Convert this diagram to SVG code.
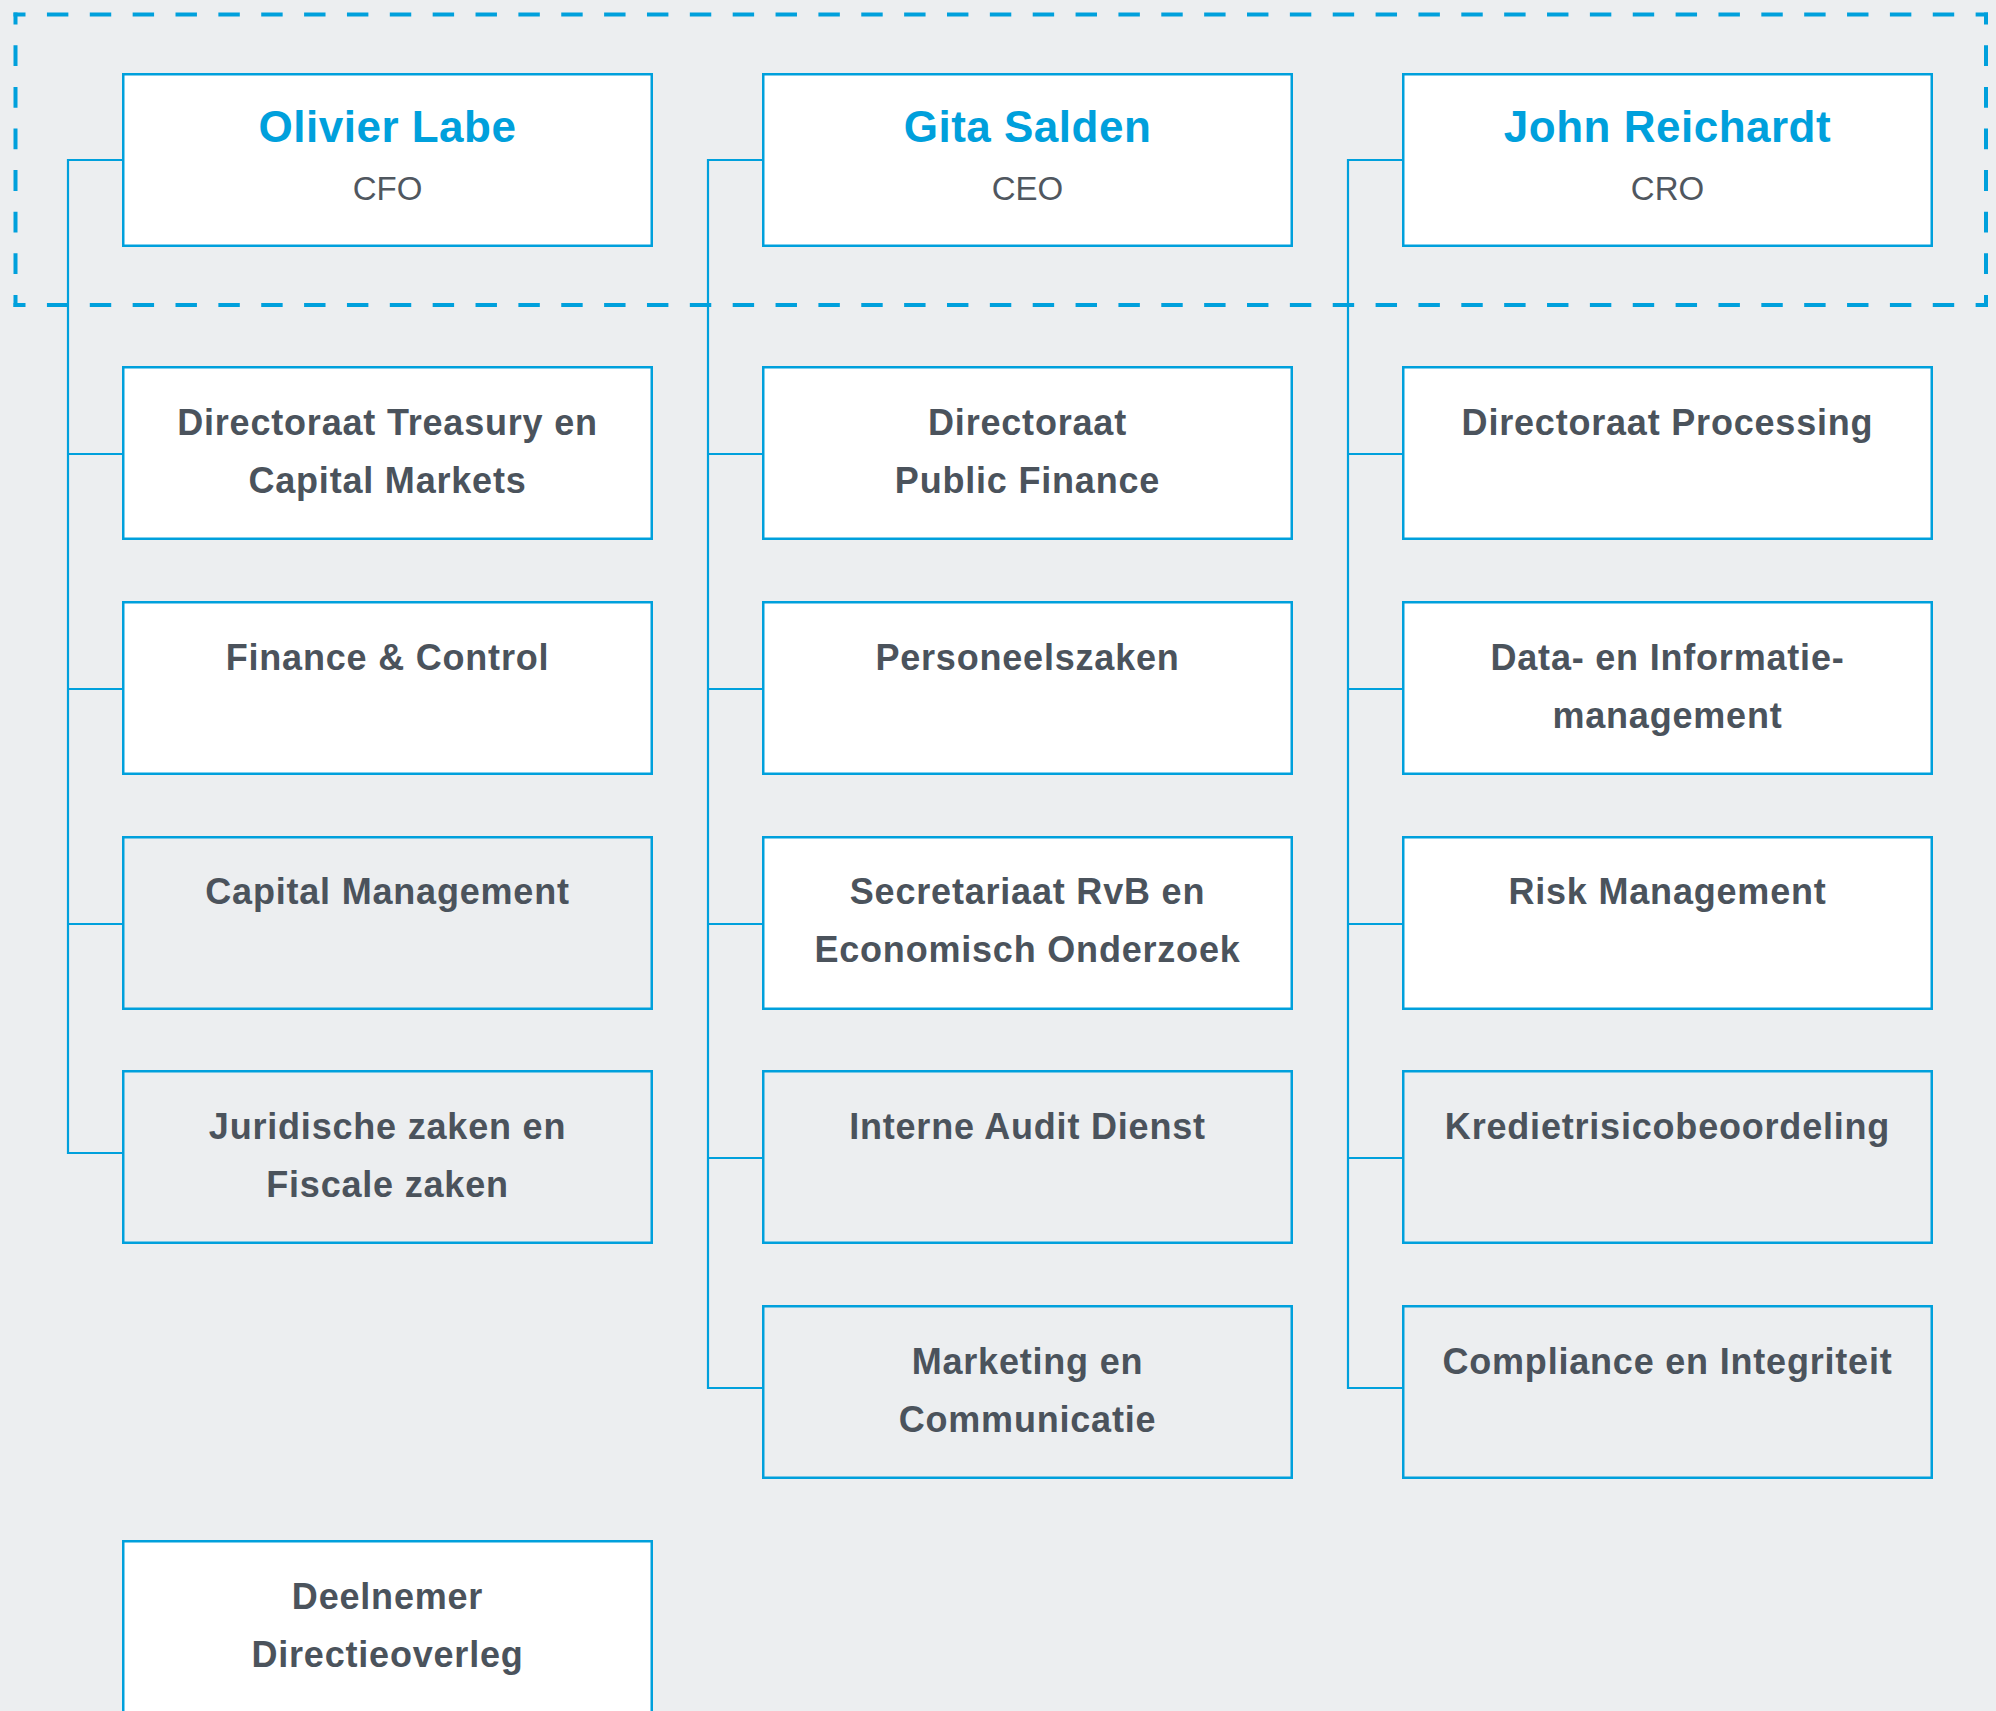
<svg xmlns="http://www.w3.org/2000/svg" width="1996" height="1711" viewBox="0 0 1996 1711">
<defs>
<style>
.bg{fill:#eceef0}
.box{stroke:#00a0dc;stroke-width:2.5}
.w{fill:#ffffff}
.g{fill:#eceef0}
.name{font-family:"Liberation Sans",Arial,sans-serif;font-weight:bold;font-size:44px;fill:#00a0dc;text-anchor:middle;letter-spacing:0.5px}
.role{font-family:"Liberation Sans",Arial,sans-serif;font-size:33px;fill:#50575f;text-anchor:middle}
.lbl{font-family:"Liberation Sans",Arial,sans-serif;font-weight:bold;font-size:36px;fill:#4b535c;text-anchor:middle;letter-spacing:0.8px}
.con{fill:none;stroke:#00a0dc;stroke-width:2.2}
.dh{fill:none;stroke:#00a0dc;stroke-width:4;stroke-dasharray:21.43 21.43;stroke-dashoffset:9.43}
.dv{fill:none;stroke:#00a0dc;stroke-width:4;stroke-dasharray:20.8 20.8;stroke-dashoffset:8.8}
</style>
</defs>
<rect class="bg" x="0" y="0" width="1996" height="1711"/>

<g id="connectors">
<path class="con" d="M122 160 H68 V1153 H122 M68 454 H122 M68 689 H122 M68 924 H122"/>
<path class="con" d="M762 160 H708 V1388 H762 M708 454 H762 M708 689 H762 M708 924 H762 M708 1158 H762"/>
<path class="con" d="M1402 160 H1348 V1388 H1402 M1348 454 H1402 M1348 689 H1402 M1348 924 H1402 M1348 1158 H1402"/>
</g>

<g id="leadership-group">
<path class="dh" d="M13.5 14.5 H1988"/>
<path class="dh" d="M13.5 305 H1988"/>
<path class="dv" d="M15.5 12.5 V307"/>
<path class="dv" d="M1986 12.5 V307"/>
</g>

<g id="cfo">
<rect class="box w" x="123.25" y="74.25" width="528.5" height="171.5"/>
<text class="name" x="387.5" y="142">Olivier Labe</text>
<text class="role" x="387.5" y="200">CFO</text>
</g>
<g id="ceo">
<rect class="box w" x="763.25" y="74.25" width="528.5" height="171.5"/>
<text class="name" x="1027.5" y="142">Gita Salden</text>
<text class="role" x="1027.5" y="200">CEO</text>
</g>
<g id="cro">
<rect class="box w" x="1403.25" y="74.25" width="528.5" height="171.5"/>
<text class="name" x="1667.5" y="142">John Reichardt</text>
<text class="role" x="1667.5" y="200">CRO</text>
</g>

<g id="treasury">
<rect class="box w" x="123.25" y="367.25" width="528.5" height="171.5"/>
<text class="lbl" x="387.5" y="435">Directoraat Treasury en</text>
<text class="lbl" x="387.5" y="493">Capital Markets</text>
</g>
<g id="public-finance">
<rect class="box w" x="763.25" y="367.25" width="528.5" height="171.5"/>
<text class="lbl" x="1027.5" y="435">Directoraat</text>
<text class="lbl" x="1027.5" y="493">Public Finance</text>
</g>
<g id="processing">
<rect class="box w" x="1403.25" y="367.25" width="528.5" height="171.5"/>
<text class="lbl" x="1667.5" y="435">Directoraat Processing</text>
</g>

<g id="finance-control">
<rect class="box w" x="123.25" y="602.25" width="528.5" height="171.5"/>
<text class="lbl" x="387.5" y="670">Finance &amp; Control</text>
</g>
<g id="personeelszaken">
<rect class="box w" x="763.25" y="602.25" width="528.5" height="171.5"/>
<text class="lbl" x="1027.5" y="670">Personeelszaken</text>
</g>
<g id="data-informatie">
<rect class="box w" x="1403.25" y="602.25" width="528.5" height="171.5"/>
<text class="lbl" x="1667.5" y="670">Data- en Informatie-</text>
<text class="lbl" x="1667.5" y="728">management</text>
</g>

<g id="capital-management">
<rect class="box g" x="123.25" y="837.25" width="528.5" height="171.5"/>
<text class="lbl" x="387.5" y="904">Capital Management</text>
</g>
<g id="secretariaat">
<rect class="box w" x="763.25" y="837.25" width="528.5" height="171.5"/>
<text class="lbl" x="1027.5" y="904">Secretariaat RvB en</text>
<text class="lbl" x="1027.5" y="962">Economisch Onderzoek</text>
</g>
<g id="risk-management">
<rect class="box w" x="1403.25" y="837.25" width="528.5" height="171.5"/>
<text class="lbl" x="1667.5" y="904">Risk Management</text>
</g>

<g id="juridische">
<rect class="box g" x="123.25" y="1071.25" width="528.5" height="171.5"/>
<text class="lbl" x="387.5" y="1139">Juridische zaken en</text>
<text class="lbl" x="387.5" y="1197">Fiscale zaken</text>
</g>
<g id="interne-audit">
<rect class="box g" x="763.25" y="1071.25" width="528.5" height="171.5"/>
<text class="lbl" x="1027.5" y="1139">Interne Audit Dienst</text>
</g>
<g id="kredietrisico">
<rect class="box g" x="1403.25" y="1071.25" width="528.5" height="171.5"/>
<text class="lbl" x="1667.5" y="1139">Kredietrisicobeoordeling</text>
</g>

<g id="marketing">
<rect class="box g" x="763.25" y="1306.25" width="528.5" height="171.5"/>
<text class="lbl" x="1027.5" y="1374">Marketing en</text>
<text class="lbl" x="1027.5" y="1432">Communicatie</text>
</g>
<g id="compliance">
<rect class="box g" x="1403.25" y="1306.25" width="528.5" height="171.5"/>
<text class="lbl" x="1667.5" y="1374">Compliance en Integriteit</text>
</g>

<g id="deelnemer">
<rect class="box w" x="123.25" y="1541.25" width="528.5" height="171.5"/>
<text class="lbl" x="387.5" y="1609">Deelnemer</text>
<text class="lbl" x="387.5" y="1667">Directieoverleg</text>
</g>
</svg>
